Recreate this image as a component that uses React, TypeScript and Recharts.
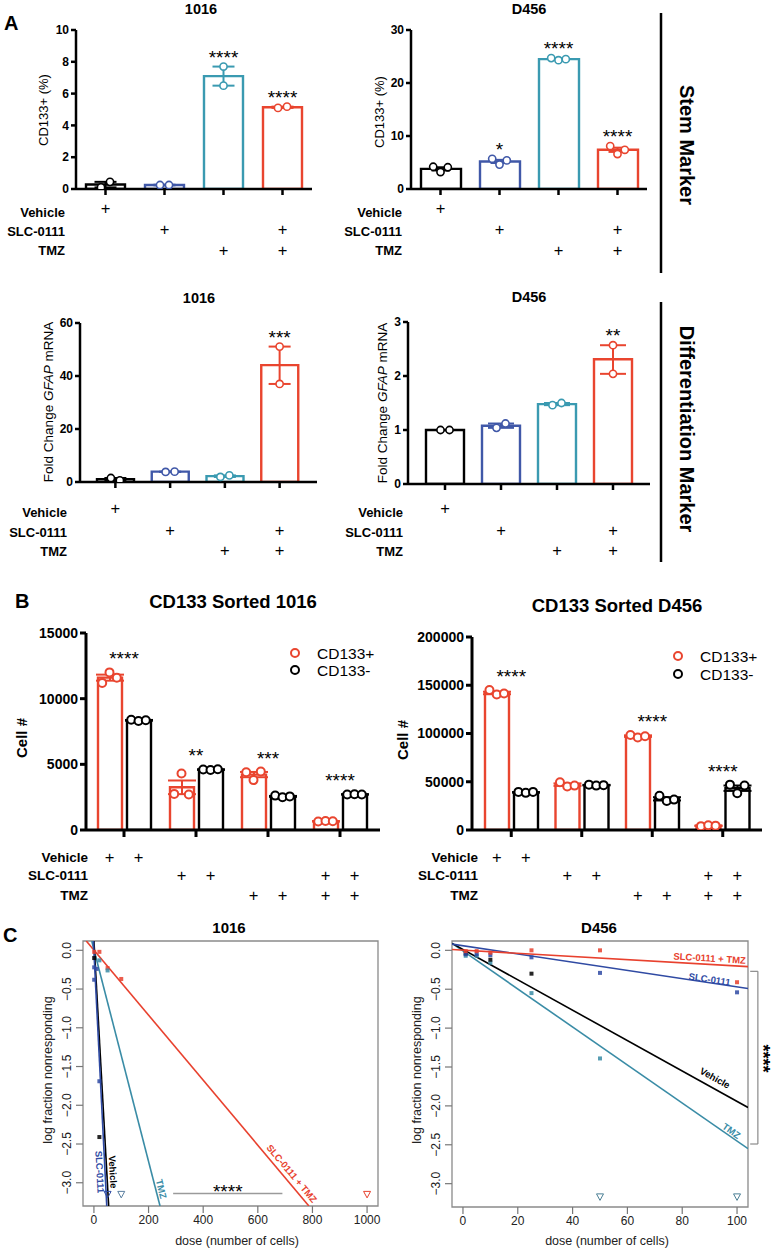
import React from 'react'
import {
  ComposedChart,
  Bar,
  Cell,
  XAxis,
  YAxis,
  Scatter,
  Line,
  ErrorBar,
  ReferenceLine,
  ReferenceDot,
  ReferenceArea,
} from 'recharts'

const FONT = '"Liberation Sans", Arial, Helvetica, sans-serif'
const INK = '#000000'
const BLUE = '#4058a8'
const TEAL = '#3a9ab1'
const RED = '#e9452f'
const C_BLUE = '#2f4aa3'
const C_TEAL = '#3a8ca6'
const C_RED = '#e8412e'

// treatment groups (panels A and B)
const treatments = ['Vehicle', 'SLC-0111', 'TMZ', 'SLC-0111 + TMZ']
const treatmentColors = [INK, BLUE, TEAL, RED]
const rowVehicle = [true, false, false, false]
const rowSlc = [false, true, false, true]
const rowTmz = [false, false, true, true]

// A: CD133+ (%) 1016
const cd1016Mean = [0.28, 0.25, 7.1, 5.14]
const cd1016Points = [[0.1, 0.45], [0.25, 0.25], [7.7, 6.5], [5.1, 5.18]]
const cd1016Range = [[0.1, 0.45], [0.23, 0.27], [6.5, 7.7], [5.1, 5.18]]
const cd1016Stars = ['', '', '****', '****']

// A: CD133+ (%) D456
const cdD456Mean = [3.8, 5.2, 24.5, 7.4]
const cdD456Points = [[4.2, 3.2, 4.1], [5.7, 4.6, 5.4], [24.7, 24.3, 24.5], [8.1, 6.6, 7.4]]
const cdD456Range = [[3.5, 4.1], [4.9, 5.5], [24.4, 24.6], [7.0, 7.8]]
const cdD456Stars = ['', '*', '****', '****']

// A: GFAP fold change 1016
const gfap1016Mean = [1.1, 3.9, 2.2, 44.1]
const gfap1016Points = [[1.5, 0.6], [3.8, 3.9], [1.9, 2.5], [51.1, 37.0]]
const gfap1016Range = [[0.6, 1.5], [3.8, 3.9], [1.9, 2.5], [37.0, 51.1]]
const gfap1016Stars = ['', '', '', '***']

// A: GFAP fold change D456
const gfapD456Mean = [1.0, 1.08, 1.48, 2.31]
const gfapD456Points = [[1.0, 1.0], [1.04, 1.12], [1.46, 1.5], [2.57, 2.04]]
const gfapD456Range = [[1.0, 1.0], [1.04, 1.12], [1.46, 1.5], [2.04, 2.57]]
const gfapD456Stars = ['', '', '', '**']

// B: CD133 sorted 1016 (cell #)
const sorted1016PosMean = [11600, 3250, 4220, 660]
const sorted1016NegMean = [8350, 4600, 2560, 2710]
const sorted1016PosSem = [230, 520, 200, 20]
const sorted1016NegSem = [30, 20, 35, 10]
const sorted1016PosPts = [[11200, 12000, 11600], [2750, 4300, 2700], [4400, 3800, 4450], [650, 680, 660]]
const sorted1016NegPts = [[8400, 8300, 8350], [4600, 4570, 4620], [2620, 2500, 2560], [2700, 2720, 2700]]
const sorted1016Stars = ['****', '**', '***', '****']

// B: CD133 sorted D456 (cell #)
const sortedD456PosMean = [142000, 47000, 97300, 4400]
const sortedD456NegMean = [39000, 46500, 32300, 43300]
const sortedD456PosSem = [1300, 1300, 800, 250]
const sortedD456NegSem = [300, 300, 1700, 2800]
const sortedD456PosPts = [[145000, 140500, 141500], [49500, 45000, 46000], [98500, 95800, 97200], [4000, 4800, 4500]]
const sortedD456NegPts = [[39500, 38500, 39500], [47000, 46000, 46500], [35500, 30000, 31500], [47000, 38000, 46000]]
const sortedD456Stars = ['****', '', '****', '****']

// C: limiting dilution, fitted lines (ends)
const lda1016VehicleFit = [{ dose: 0, logf: 0.12 }, { dose: 54, logf: -3.3 }]
const lda1016SlcFit = [{ dose: -2, logf: 0.12 }, { dose: 47, logf: -3.3 }]
const lda1016TmzFit = [{ dose: -8, logf: 0.12 }, { dose: 242, logf: -3.3 }]
const lda1016ComboFit = [{ dose: -28, logf: 0.12 }, { dose: 787, logf: -3.3 }]

const lda1016VehicleHits = [{ dose: 1, logf: -0.1 }, { dose: 20, logf: -2.41 }]
const lda1016SlcHits = [{ dose: 1, logf: -0.22 }, { dose: 10, logf: -0.24 }, { dose: 1, logf: -0.38 }, { dose: 20, logf: -1.69 }]
const lda1016TmzHits = [{ dose: 20, logf: -0.13 }, { dose: 50, logf: -0.26 }]
const lda1016ComboHits = [{ dose: 1, logf: -0.02 }, { dose: 20, logf: -0.02 }, { dose: 50, logf: -0.23 }, { dose: 100, logf: -0.37 }]
const lda1016SlcMiss = [{ dose: 50, logf: -3.15 }]
const lda1016TmzMiss = [{ dose: 100, logf: -3.15 }]
const lda1016ComboMiss = [{ dose: 1000, logf: -3.15 }]

const ldaD456VehicleFit = [{ dose: -4, logf: 0.09 }, { dose: 104, logf: -2.02 }]
const ldaD456SlcFit = [{ dose: -4, logf: 0.08 }, { dose: 104, logf: -0.49 }]
const ldaD456TmzFit = [{ dose: -4, logf: 0.09 }, { dose: 104, logf: -2.55 }]
const ldaD456ComboFit = [{ dose: -4, logf: 0.01 }, { dose: 104, logf: -0.21 }]

const ldaD456VehicleHits = [{ dose: 1, logf: -0.04 }, { dose: 10, logf: -0.12 }, { dose: 25, logf: -0.3 }]
const ldaD456SlcHits = [{ dose: 1, logf: -0.05 }, { dose: 5, logf: -0.05 }, { dose: 10, logf: -0.06 }, { dose: 25, logf: -0.09 }, { dose: 50, logf: -0.29 }, { dose: 100, logf: -0.54 }]
const ldaD456TmzHits = [{ dose: 1, logf: -0.07 }, { dose: 5, logf: -0.07 }, { dose: 10, logf: -0.16 }, { dose: 25, logf: -0.55 }, { dose: 50, logf: -1.39 }]
const ldaD456ComboHits = [{ dose: 1, logf: -0.01 }, { dose: 5, logf: -0.01 }, { dose: 10, logf: -0.03 }, { dose: 25, logf: 0.0 }, { dose: 50, logf: 0.0 }, { dose: 100, logf: -0.41 }]
const ldaD456TmzMiss = [{ dose: 50, logf: -3.17 }, { dose: 100, logf: -3.17 }]

const ldaYTicks = [0, -0.5, -1, -1.5, -2, -2.5, -3]
const lda1016XTicks = [0, 200, 400, 600, 800, 1000]
const ldaD456XTicks = [0, 20, 40, 60, 80, 100]

type Rect = { x0: number; y0: number; x1: number; y1: number }
type Pt = { dose: number; logf: number }
type Note = { text: string; dose: number; logf: number; angle: number; color: string }

const lda1016Notes: Note[] = [
  { text: 'SLC-0111', dose: 22, logf: -2.86, angle: 87, color: C_BLUE },
  { text: 'Vehicle', dose: 70, logf: -2.86, angle: 87, color: INK },
  { text: 'TMZ', dose: 247, logf: -3.08, angle: 76, color: C_TEAL },
  { text: 'SLC-0111 + TMZ', dose: 725, logf: -2.88, angle: 50, color: C_RED },
]
const ldaD456Notes: Note[] = [
  { text: 'SLC-0111 + TMZ', dose: 90, logf: -0.1, angle: 3.4, color: C_RED },
  { text: 'SLC-0111', dose: 90, logf: -0.37, angle: 8.6, color: C_BLUE },
  { text: 'Vehicle', dose: 92, logf: -1.64, angle: 29, color: INK },
  { text: 'TMZ', dose: 98, logf: -2.32, angle: 35, color: C_TEAL },
]

const axisStroke = { stroke: INK, strokeWidth: 2.5 }

const errShape = (color: string, cap: number) => (p: any) => (
  <g stroke={color} strokeWidth={2} fill="none">
    <line x1={p.x1} y1={p.y1} x2={p.x2} y2={p.y2} />
    <line x1={p.x1 - cap / 2} y1={p.y1} x2={p.x1 + cap / 2} y2={p.y1} />
    <line x1={p.x2 - cap / 2} y1={p.y2} x2={p.x2 + cap / 2} y2={p.y2} />
  </g>
)

const starShape = (text: string, lift: number) => (p: any) => (
  <text x={p.cx} y={p.cy - lift} textAnchor="middle" fontSize={19} fontFamily={FONT} fill={INK}>
    {text}
  </text>
)

const ringShape = (colorOf: (name: string) => string, shift: number, r: number, sw: number) => (p: any) => {
  const d = p.payload
  const step = d.n === 2 ? 9 : 7.3
  const off = d.tight ? (d.k - (d.n - 1) / 2) * step : 0
  return <circle cx={p.cx + shift + off} cy={p.cy} r={r} fill="#fff" stroke={colorOf(d.name)} strokeWidth={sw} />
}

function PlusTick(props: any) {
  const { x, payload, rows, offsets, axisY, shifts } = props
  const i = treatments.indexOf(payload.value)
  return (
    <g>
      {rows.map((row: boolean[], r: number) =>
        row[i]
          ? shifts.map((s: number, j: number) => (
              <text
                key={`${r}-${j}`}
                x={x + s}
                y={axisY + offsets[r]}
                textAnchor="middle"
                dominantBaseline="central"
                fontSize={16.5}
                fontFamily={FONT}
                fill={INK}
              >
                +
              </text>
            ))
          : null
      )}
    </g>
  )
}

interface GroupPanelProps {
  plot: Rect
  left: number
  top: number
  width: number
  height: number
  domain: [number, number]
  ticks: number[]
  means: number[]
  points: number[][]
  ranges: number[][]
  stars: string[]
  barSize: number
  cap: number
  pad: { left: number; right: number }
  plusRows: number[]
}

function GroupPanel(p: GroupPanelProps) {
  const rows = treatments.map((name, i) => ({ name, mean: p.means[i] }))
  const plotH = p.plot.y1 - p.plot.y0
  const span = p.domain[1] - p.domain[0]
  const dots = p.points.flatMap((vals, i) => {
    const tight = ((Math.max(...vals) - Math.min(...vals)) / span) * plotH < 10
    return vals.map((v, k) => ({ name: treatments[i], v, k, n: vals.length, tight }))
  })
  const colorOf = (name: string) => treatmentColors[treatments.indexOf(name)]
  const axisY = p.plot.y1 - p.top

  return (
    <div style={{ position: 'absolute', left: p.left, top: p.top }}>
      <ComposedChart
        width={p.width}
        height={p.height}
        data={rows}
        margin={{ top: p.plot.y0 - p.top, right: p.left + p.width - p.plot.x1, bottom: 0, left: 0 }}
      >
        <XAxis
          dataKey="name"
          type="category"
          allowDuplicatedCategory={false}
          height={p.top + p.height - p.plot.y1}
          padding={p.pad}
          axisLine={axisStroke}
          tickLine={axisStroke}
          tickSize={6}
          interval={0}
          tick={(t: any) => (
            <PlusTick {...t} rows={[rowVehicle, rowSlc, rowTmz]} offsets={p.plusRows} axisY={axisY} shifts={[0]} />
          )}
        />
        <YAxis
          type="number"
          domain={p.domain}
          ticks={p.ticks}
          interval={0}
          allowDataOverflow
          width={p.plot.x0 - p.left}
          axisLine={axisStroke}
          tickLine={axisStroke}
          tickSize={5}
          tick={{ fontSize: 12, fontWeight: 700, fill: INK, fontFamily: FONT }}
        />
        <Bar dataKey="mean" barSize={p.barSize} fill="#fff" strokeWidth={2.4} isAnimationActive={false}>
          {rows.map((r, i) => (
            <Cell key={r.name} fill="#fff" stroke={treatmentColors[i]} />
          ))}
        </Bar>
        {p.ranges.map((rg, i) => (
          <ReferenceLine
            key={`err-${i}`}
            segment={[
              { x: treatments[i], y: rg[0] },
              { x: treatments[i], y: rg[1] },
            ]}
            ifOverflow="visible"
            shape={errShape(treatmentColors[i], p.cap)}
          />
        ))}
        <Scatter data={dots} dataKey="v" isAnimationActive={false} shape={ringShape(colorOf, 0, 3.6, 1.6)} />
        {p.stars.map((s, i) =>
          s ? (
            <ReferenceDot
              key={`star-${i}`}
              x={treatments[i]}
              y={Math.max(...p.points[i])}
              r={0}
              ifOverflow="visible"
              shape={starShape(s, 3)}
            />
          ) : null
        )}
      </ComposedChart>
    </div>
  )
}

interface SortedPanelProps {
  plot: Rect
  left: number
  top: number
  width: number
  height: number
  domain: [number, number]
  ticks: number[]
  posMean: number[]
  negMean: number[]
  posSem: number[]
  negSem: number[]
  posPts: number[][]
  negPts: number[][]
  stars: string[]
  pad: { left: number; right: number }
}

function SortedPanel(p: SortedPanelProps) {
  const rows = treatments.map((name, i) => ({
    name,
    pos: p.posMean[i],
    neg: p.negMean[i],
    posErr: p.posSem[i],
    negErr: p.negSem[i],
  }))
  const posDots = p.posPts.flatMap((vals, i) =>
    vals.map((v, k) => ({ name: treatments[i], v, k, n: vals.length, tight: true }))
  )
  const negDots = p.negPts.flatMap((vals, i) =>
    vals.map((v, k) => ({ name: treatments[i], v, k, n: vals.length, tight: true }))
  )
  const axisY = p.plot.y1 - p.top
  const half = 14.5

  return (
    <div style={{ position: 'absolute', left: p.left, top: p.top }}>
      <ComposedChart
        width={p.width}
        height={p.height}
        data={rows}
        barGap={5}
        margin={{ top: p.plot.y0 - p.top, right: p.left + p.width - p.plot.x1, bottom: 0, left: 0 }}
      >
        <XAxis
          dataKey="name"
          type="category"
          allowDuplicatedCategory={false}
          height={p.top + p.height - p.plot.y1}
          padding={p.pad}
          axisLine={{ stroke: INK, strokeWidth: 3 }}
          tickLine={{ stroke: INK, strokeWidth: 3 }}
          tickSize={7}
          interval={0}
          tick={(t: any) => (
            <PlusTick
              {...t}
              rows={[rowVehicle, rowSlc, rowTmz]}
              offsets={[27, 45, 65]}
              axisY={axisY}
              shifts={[-half, half]}
            />
          )}
        />
        <YAxis
          type="number"
          domain={p.domain}
          ticks={p.ticks}
          interval={0}
          allowDataOverflow
          width={p.plot.x0 - p.left}
          axisLine={{ stroke: INK, strokeWidth: 3 }}
          tickLine={{ stroke: INK, strokeWidth: 3 }}
          tickSize={6}
          tick={{ fontSize: 14, fontWeight: 700, fill: INK, fontFamily: FONT }}
        />
        <Bar dataKey="pos" barSize={24} fill="#fff" stroke={RED} strokeWidth={2.4} isAnimationActive={false}>
          <ErrorBar dataKey="posErr" width={14} stroke={RED} strokeWidth={2} direction="y" />
        </Bar>
        <Bar dataKey="neg" barSize={24} fill="#fff" stroke={INK} strokeWidth={2.4} isAnimationActive={false}>
          <ErrorBar dataKey="negErr" width={14} stroke={INK} strokeWidth={2} direction="y" />
        </Bar>
        <Scatter data={posDots} dataKey="v" isAnimationActive={false} shape={ringShape(() => RED, -half, 4, 2)} />
        <Scatter data={negDots} dataKey="v" isAnimationActive={false} shape={ringShape(() => INK, half, 4, 2)} />
        {p.stars.map((s, i) =>
          s ? (
            <ReferenceDot
              key={`star-${i}`}
              x={treatments[i]}
              y={Math.max(...p.posPts[i], ...p.negPts[i])}
              r={0}
              ifOverflow="visible"
              shape={starShape(s, 7)}
            />
          ) : null
        )}
      </ComposedChart>
    </div>
  )
}

const fmtLog = (v: number) => (v === 0 ? '0.0' : '\u2212' + Math.abs(v).toFixed(1))

function RotTick(props: any) {
  const { x, y, payload } = props
  return (
    <text
      x={x}
      y={y}
      transform={`rotate(-90 ${x} ${y})`}
      textAnchor="middle"
      fontSize={12}
      fontFamily={FONT}
      fill="#222"
    >
      {fmtLog(payload.value)}
    </text>
  )
}

const squareShape = (color: string) => (p: any) => (
  <rect x={p.cx - 2} y={p.cy - 2} width={4} height={4} fill={color} opacity={0.85} />
)
const triangleShape = (color: string) => (p: any) => (
  <path
    d={`M${p.cx - 3.5},${p.cy - 3} L${p.cx + 3.5},${p.cy - 3} L${p.cx},${p.cy + 3.5} Z`}
    fill="none"
    stroke={color}
    strokeWidth={1}
  />
)
const noteShape = (n: Note) => (p: any) => (
  <text
    x={p.cx}
    y={p.cy}
    transform={`rotate(${n.angle} ${p.cx} ${p.cy})`}
    textAnchor="middle"
    dominantBaseline="central"
    fontSize={9.5}
    fontWeight={700}
    fontFamily={FONT}
    fill={n.color}
  >
    {n.text}
  </text>
)

interface LdaPanelProps {
  plot: Rect
  left: number
  top: number
  width: number
  height: number
  xDomain: [number, number]
  xTicks: number[]
  fits: { pts: Pt[]; color: string }[]
  hits: { pts: Pt[]; color: string }[]
  misses: { pts: Pt[]; color: string }[]
  notes: Note[]
  children?: React.ReactNode
}

const LDA_Y: [number, number] = [-3.3, 0.12]

function LdaPanel(p: LdaPanelProps) {
  return (
    <div style={{ position: 'absolute', left: p.left, top: p.top }}>
      <ComposedChart
        width={p.width}
        height={p.height}
        margin={{ top: p.plot.y0 - p.top, right: p.left + p.width - p.plot.x1, bottom: 0, left: 0 }}
      >
        <XAxis
          dataKey="dose"
          type="number"
          domain={p.xDomain}
          ticks={p.xTicks}
          interval={0}
          allowDataOverflow
          height={p.top + p.height - p.plot.y1}
          axisLine={false}
          tickLine={{ stroke: '#777', strokeWidth: 1.2 }}
          tickSize={7}
          tick={{ fontSize: 12, fill: '#222', fontFamily: FONT }}
        />
        <YAxis
          dataKey="logf"
          type="number"
          domain={LDA_Y}
          ticks={ldaYTicks}
          interval={0}
          allowDataOverflow
          width={p.plot.x0 - p.left}
          axisLine={false}
          tickLine={{ stroke: '#777', strokeWidth: 1.2 }}
          tickSize={7}
          tickMargin={5}
          tick={<RotTick />}
        />
        <ReferenceArea
          x1={p.xDomain[0]}
          x2={p.xDomain[1]}
          y1={LDA_Y[0]}
          y2={LDA_Y[1]}
          fill="none"
          stroke="#8a8a8a"
          strokeWidth={1.3}
          ifOverflow="visible"
        />
        {p.fits.map((f, i) => (
          <Line
            key={`fit-${i}`}
            data={f.pts}
            dataKey="logf"
            stroke={f.color}
            strokeWidth={1.6}
            dot={false}
            isAnimationActive={false}
          />
        ))}
        {p.hits.map((h, i) => (
          <Scatter key={`hit-${i}`} data={h.pts} isAnimationActive={false} shape={squareShape(h.color)} />
        ))}
        {p.misses.map((m, i) => (
          <Scatter key={`miss-${i}`} data={m.pts} isAnimationActive={false} shape={triangleShape(m.color)} />
        ))}
        {p.notes.map((n, i) => (
          <ReferenceDot key={`note-${i}`} x={n.dose} y={n.logf} r={0} ifOverflow="visible" shape={noteShape(n)} />
        ))}
        {p.children}
      </ComposedChart>
    </div>
  )
}

function RowLabels({ right, ys, size }: { right: number; ys: number[]; size: number }) {
  return (
    <>
      {['Vehicle', 'SLC-0111', 'TMZ'].map((s, i) => (
        <text
          key={s}
          x={right}
          y={ys[i]}
          textAnchor="end"
          dominantBaseline="central"
          fontSize={size}
          fontWeight={700}
          fill={INK}
        >
          {s}
        </text>
      ))}
    </>
  )
}

function VText({ x, y, angle, size, weight, children, fill }: any) {
  return (
    <text
      x={x}
      y={y}
      transform={`rotate(${angle} ${x} ${y})`}
      textAnchor="middle"
      dominantBaseline="central"
      fontSize={size}
      fontWeight={weight}
      fill={fill || INK}
    >
      {children}
    </text>
  )
}

function Overlay() {
  const b = { fontWeight: 700, fill: INK }
  return (
    <svg
      width={782}
      height={1259}
      style={{ position: 'absolute', left: 0, top: 0, pointerEvents: 'none', fontFamily: FONT }}
    >
      {/* panel A */}
      <text x={4} y={30} fontSize={20} {...b}>A</text>
      <text x={201} y={14} textAnchor="middle" fontSize={14.5} {...b}>1016</text>
      <text x={529} y={14} textAnchor="middle" fontSize={14.5} {...b}>D456</text>
      <VText x={43} y={110} angle={-90} size={13}>CD133+ (%)</VText>
      <VText x={379} y={112} angle={-90} size={13}>CD133+ (%)</VText>
      <RowLabels right={65} ys={[212, 231, 250]} size={13} />
      <RowLabels right={402} ys={[212, 231, 250]} size={13} />
      <line x1={661} y1={13} x2={661} y2={273} stroke={INK} strokeWidth={2.5} />
      <VText x={687} y={145} angle={90} size={20} weight={700}>Stem Marker</VText>

      <text x={199} y={303} textAnchor="middle" fontSize={14.5} {...b}>1016</text>
      <text x={529} y={302} textAnchor="middle" fontSize={14.5} {...b}>D456</text>
      <VText x={48} y={402} angle={-90} size={13.5}>
        Fold Change <tspan fontStyle="italic">GFAP</tspan> mRNA
      </VText>
      <VText x={382} y={403} angle={-90} size={13.5}>
        Fold Change <tspan fontStyle="italic">GFAP</tspan> mRNA
      </VText>
      <RowLabels right={67} ys={[512, 532, 551]} size={13} />
      <RowLabels right={403} ys={[512, 532, 551]} size={13} />
      <line x1={661} y1={302} x2={661} y2={562} stroke={INK} strokeWidth={2.5} />
      <VText x={687} y={429} angle={90} size={20} weight={700}>Differentiation Marker</VText>

      {/* panel B */}
      <text x={15} y={608} fontSize={20} {...b}>B</text>
      <text x={233} y={608} textAnchor="middle" fontSize={18.5} {...b}>CD133 Sorted 1016</text>
      <text x={617} y={612} textAnchor="middle" fontSize={18.5} {...b}>CD133 Sorted D456</text>
      <VText x={21} y={738} angle={-90} size={15} weight={700}>Cell #</VText>
      <VText x={402} y={740} angle={-90} size={15} weight={700}>Cell #</VText>
      <circle cx={295} cy={653} r={4} fill="#fff" stroke={RED} strokeWidth={2} />
      <text x={317} y={653} dominantBaseline="central" fontSize={15.5} fill={INK}>CD133+</text>
      <circle cx={295} cy={670} r={4} fill="#fff" stroke={INK} strokeWidth={2} />
      <text x={317} y={670} dominantBaseline="central" fontSize={15.5} fill={INK}>CD133-</text>
      <circle cx={678} cy={656} r={4} fill="#fff" stroke={RED} strokeWidth={2} />
      <text x={700} y={656} dominantBaseline="central" fontSize={15.5} fill={INK}>CD133+</text>
      <circle cx={678} cy={674} r={4} fill="#fff" stroke={INK} strokeWidth={2} />
      <text x={700} y={674} dominantBaseline="central" fontSize={15.5} fill={INK}>CD133-</text>
      <RowLabels right={88} ys={[857, 875, 895]} size={13.5} />
      <RowLabels right={478} ys={[857, 875, 895]} size={13.5} />

      {/* panel C */}
      <text x={3} y={942} fontSize={20} {...b}>C</text>
      <text x={229} y={933} textAnchor="middle" fontSize={15} {...b}>1016</text>
      <text x={599} y={933} textAnchor="middle" fontSize={15} {...b}>D456</text>
      <VText x={48} y={1070} angle={-90} size={12.5} fill="#222">log fraction nonresponding</VText>
      <VText x={417} y={1070} angle={-90} size={12.5} fill="#222">log fraction nonresponding</VText>
      <text x={237} y={1245} textAnchor="middle" fontSize={12.5} fill="#222">dose (number of cells)</text>
      <text x={607} y={1245} textAnchor="middle" fontSize={12.5} fill="#222">dose (number of cells)</text>
    </svg>
  )
}

export default function App() {
  return (
    <div
      style={{
        position: 'absolute',
        left: 0,
        top: 0,
        width: 782,
        height: 1259,
        background: '#fff',
        overflow: 'hidden',
        fontFamily: FONT,
      }}
    >
      <GroupPanel
        plot={{ x0: 76, y0: 30, x1: 312, y1: 189 }}
        left={0}
        top={0}
        width={325}
        height={265}
        domain={[0, 10]}
        ticks={[0, 2, 4, 6, 8, 10]}
        means={cd1016Mean}
        points={cd1016Points}
        ranges={cd1016Range}
        stars={cd1016Stars}
        barSize={39}
        cap={22}
        pad={{ left: 0, right: 0 }}
        plusRows={[19, 40, 61]}
      />
      <GroupPanel
        plot={{ x0: 411, y0: 30, x1: 647, y1: 189 }}
        left={335}
        top={0}
        width={325}
        height={265}
        domain={[0, 30]}
        ticks={[0, 10, 20, 30]}
        means={cdD456Mean}
        points={cdD456Points}
        ranges={cdD456Range}
        stars={cdD456Stars}
        barSize={40}
        cap={18}
        pad={{ left: 0, right: 0 }}
        plusRows={[19, 40, 61]}
      />
      <GroupPanel
        plot={{ x0: 80, y0: 323, x1: 317, y1: 482 }}
        left={0}
        top={290}
        width={330}
        height={270}
        domain={[0, 60]}
        ticks={[0, 20, 40, 60]}
        means={gfap1016Mean}
        points={gfap1016Points}
        ranges={gfap1016Range}
        stars={gfap1016Stars}
        barSize={37}
        cap={22}
        pad={{ left: 8, right: 10 }}
        plusRows={[26, 48, 68]}
      />
      <GroupPanel
        plot={{ x0: 408, y0: 322, x1: 650, y1: 484 }}
        left={335}
        top={290}
        width={325}
        height={270}
        domain={[0, 3]}
        ticks={[0, 1, 2, 3]}
        means={gfapD456Mean}
        points={gfapD456Points}
        ranges={gfapD456Range}
        stars={gfapD456Stars}
        barSize={38}
        cap={26}
        pad={{ left: 9, right: 9 }}
        plusRows={[24, 46, 66]}
      />
      <SortedPanel
        plot={{ x0: 86, y0: 633, x1: 380, y1: 830 }}
        left={0}
        top={615}
        width={390}
        height={290}
        domain={[0, 15000]}
        ticks={[0, 5000, 10000, 15000]}
        posMean={sorted1016PosMean}
        negMean={sorted1016NegMean}
        posSem={sorted1016PosSem}
        negSem={sorted1016NegSem}
        posPts={sorted1016PosPts}
        negPts={sorted1016NegPts}
        stars={sorted1016Stars}
        pad={{ left: 2, right: 4 }}
      />
      <SortedPanel
        plot={{ x0: 472, y0: 637, x1: 762, y1: 830 }}
        left={392}
        top={615}
        width={390}
        height={290}
        domain={[0, 200000]}
        ticks={[0, 50000, 100000, 150000, 200000]}
        posMean={sortedD456PosMean}
        negMean={sortedD456NegMean}
        posSem={sortedD456PosSem}
        negSem={sortedD456NegSem}
        posPts={sortedD456PosPts}
        negPts={sortedD456NegPts}
        stars={sortedD456Stars}
        pad={{ left: 4, right: 4 }}
      />
      <LdaPanel
        plot={{ x0: 83, y0: 941, x1: 378, y1: 1206 }}
        left={30}
        top={925}
        width={360}
        height={334}
        xDomain={[-40, 1040]}
        xTicks={lda1016XTicks}
        fits={[
          { pts: lda1016ComboFit, color: C_RED },
          { pts: lda1016TmzFit, color: C_TEAL },
          { pts: lda1016VehicleFit, color: INK },
          { pts: lda1016SlcFit, color: C_BLUE },
        ]}
        hits={[
          { pts: lda1016ComboHits, color: C_RED },
          { pts: lda1016TmzHits, color: C_TEAL },
          { pts: lda1016VehicleHits, color: INK },
          { pts: lda1016SlcHits, color: C_BLUE },
        ]}
        misses={[
          { pts: lda1016SlcMiss, color: C_BLUE },
          { pts: lda1016TmzMiss, color: '#5a7fa0' },
          { pts: lda1016ComboMiss, color: C_RED },
        ]}
        notes={lda1016Notes}
      >
        <ReferenceLine
          segment={[
            { x: 290, y: -3.14 },
            { x: 690, y: -3.14 },
          ]}
          stroke="#9a9a9a"
          strokeWidth={1.5}
          ifOverflow="visible"
        />
        <ReferenceDot x={490} y={-3.14} r={0} ifOverflow="visible" shape={starShape('****', -4)} />
      </LdaPanel>
      <LdaPanel
        plot={{ x0: 452, y0: 941, x1: 748, y1: 1207 }}
        left={400}
        top={925}
        width={382}
        height={334}
        xDomain={[-4, 104]}
        xTicks={ldaD456XTicks}
        fits={[
          { pts: ldaD456TmzFit, color: C_TEAL },
          { pts: ldaD456VehicleFit, color: INK },
          { pts: ldaD456SlcFit, color: C_BLUE },
          { pts: ldaD456ComboFit, color: C_RED },
        ]}
        hits={[
          { pts: ldaD456TmzHits, color: C_TEAL },
          { pts: ldaD456VehicleHits, color: INK },
          { pts: ldaD456SlcHits, color: C_BLUE },
          { pts: ldaD456ComboHits, color: C_RED },
        ]}
        misses={[{ pts: ldaD456TmzMiss, color: '#4b7f95' }]}
        notes={ldaD456Notes}
      >
        <ReferenceLine
          segment={[
            { x: 107.6, y: -0.27 },
            { x: 107.6, y: -2.49 },
          ]}
          stroke="#8a8a8a"
          strokeWidth={1.2}
          ifOverflow="visible"
        />
        <ReferenceLine
          segment={[
            { x: 104.8, y: -0.27 },
            { x: 107.6, y: -0.27 },
          ]}
          stroke="#8a8a8a"
          strokeWidth={1.2}
          ifOverflow="visible"
        />
        <ReferenceLine
          segment={[
            { x: 104.8, y: -2.49 },
            { x: 107.6, y: -2.49 },
          ]}
          stroke="#8a8a8a"
          strokeWidth={1.2}
          ifOverflow="visible"
        />
        <ReferenceDot
          x={109.5}
          y={-1.39}
          r={0}
          ifOverflow="visible"
          shape={(p: any) => (
            <text
              x={p.cx}
              y={p.cy}
              transform={`rotate(90 ${p.cx} ${p.cy})`}
              textAnchor="middle"
              dominantBaseline="central"
              fontSize={18}
              fontWeight={700}
              fontFamily={FONT}
              fill={INK}
            >
              ****
            </text>
          )}
        />
      </LdaPanel>
      <Overlay />
    </div>
  )
}
